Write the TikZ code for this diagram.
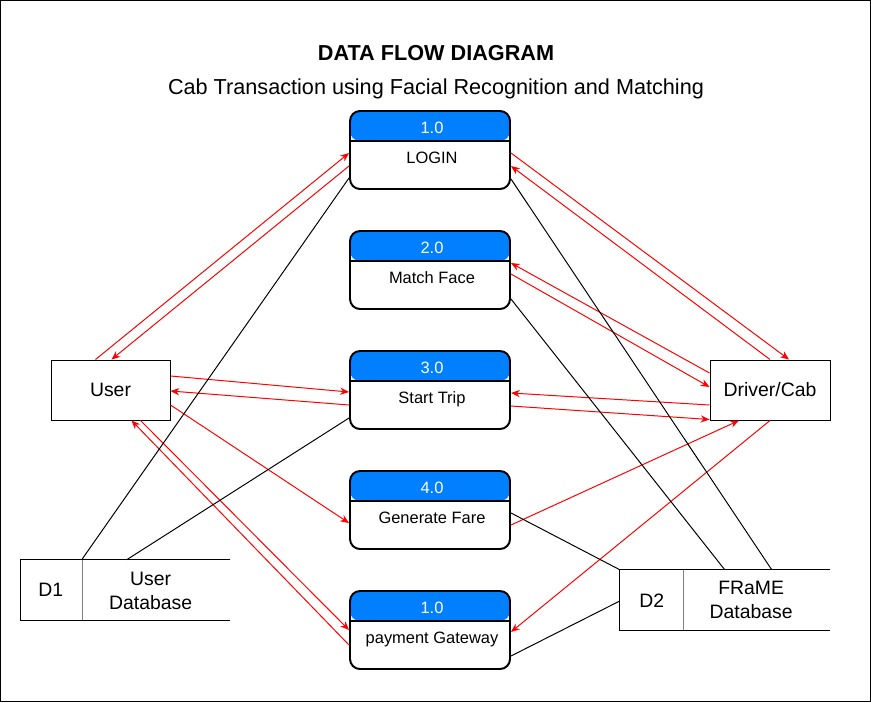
\documentclass[tikz,border=0pt]{standalone}
\usepackage{fontspec}
\setmainfont{Liberation Sans}
\usetikzlibrary{arrows.meta}
\usetikzlibrary{calc}
\definecolor{hblue}{RGB}{0,127,255}

\tikzset{
  proc/.style={draw, line width=1.4pt, rounded corners=2.5mm, minimum width=40mm,
    minimum height=19.5mm, inner sep=0pt,
    path picture={
      \fill [hblue] (path picture bounding box.north west) rectangle ([yshift=-7.5mm]path picture bounding box.north east);
      \draw [line width=1.4pt] ([yshift=-7.5mm]path picture bounding box.north west) -- ([yshift=-7.5mm]path picture bounding box.north east);
    }},
  ent/.style={draw, line width=0.7pt, minimum height=15mm, inner sep=0pt, font=\fontsize{13.8}{16.6}\selectfont},
  store/.style={minimum height=15mm, inner sep=0pt},
  stxt/.style={font=\fontsize{13.8}{16.6}\selectfont, align=center, inner sep=0pt},
  ptxt/.style={font=\fontsize{11.7}{14}\selectfont, anchor=base, inner sep=0pt},
  htxt/.style={ptxt, white},
  flow/.style={red, line width=0.7pt, -{Stealth[length=2.2mm, width=1.8mm]}},
  link/.style={black, line width=0.7pt}
}

\begin{document}
\begin{tikzpicture}[x=0.25mm, y=-0.25mm]
    \useasboundingbox (0, 0) rectangle (871, 702);
    \draw [line width=0.7pt] (0.5, 0.5) rectangle (870.5, 701.5);

    \node [font=\bfseries\fontsize{15.4}{18}\selectfont, anchor=base] (title) at (436, 60) {DATA FLOW DIAGRAM};
    \node [font=\fontsize{15.4}{18}\selectfont, anchor=base] (subtitle) at (436, 94) {Cab Transaction using Facial Recognition and Matching};

    \foreach \n/\y/\k/\t in {login/150/1.0/LOGIN, match/270/2.0/Match Face, trip/390/3.0/Start Trip,
                             fare/510/4.0/Generate Fare, pay/630/1.0/payment Gateway} {
      \node [proc] (\n) at (430, \y) {};
      \node [htxt] (\n-num) at ($(\n.center)+(2, -17)$) {\k};
      \node [ptxt] (\n-lbl) at ($(\n.center)+(2, 13)$) {\t};
    }

    \node [ent, minimum width=29.75mm] (user) at (110.5, 390) {User};
    \node [ent, minimum width=30mm] (driver) at (770, 390) {Driver/Cab};

    \node [store, minimum width=52.25mm] (d1) at (125.5, 590) {};
    \draw [link] (d1.north east) -- (d1.north west) -- (d1.south west) -- (d1.south east);
    \draw [gray, line width=0.7pt] ($(d1.north west)+(62, 0)$) -- ($(d1.south west)+(62, 0)$);
    \node [stxt] (d1-id) at ($(d1.west)+(30, 0)$) {D1};
    \node [stxt] (d1-name) at ($(d1.west)+(130, 1)$) {User\\Database};

    \node [store, minimum width=52.5mm] (d2) at (725, 600) {};
    \draw [link] (d2.north east) -- (d2.north west) -- (d2.south west) -- (d2.south east);
    \draw [gray, line width=0.7pt] ($(d2.north west)+(64, 0)$) -- ($(d2.south west)+(64, 0)$);
    \node [stxt] (d2-id) at ($(d2.west)+(32, 1)$) {D2};
    \node [stxt] (d2-name) at ($(d2.west)+(131.5, 0)$) {FRaME\\Database};

    \draw [flow] ($(user.north)+(-15, 0)$) -- ($(login.west)+(0, 3)$);
    \draw [flow] ($(login.west)+(0, 16)$) -- ($(user.north)+(1, 0)$);
    \draw [flow] ($(login.east)+(0, 3)$) -- ($(driver.north)+(19, 0)$);
    \draw [flow] (driver.north) -- ($(login.east)+(0, 16)$);
    \draw [flow] ($(driver.west)+(0, -17)$) -- ($(match.east)+(0, -7)$);
    \draw [flow] ($(match.east)+(0, 4)$) -- ($(driver.west)+(0, -3)$);
    \draw [flow] ($(user.east)+(0, -14)$) -- ($(trip.west)+(0, 2)$);
    \draw [flow] ($(trip.west)+(0, 15)$) -- ($(user.east)+(0, 1)$);
    \draw [flow] ($(driver.west)+(0, 15)$) -- ($(trip.east)+(0, 3)$);
    \draw [flow] ($(trip.east)+(0, 16)$) -- ($(driver.south west)+(0, -1)$);
    \draw [flow] ($(user.east)+(0, 15)$) -- ($(fare.west)+(0, 13)$);
    \draw [flow] ($(fare.east)+(0, 15)$) -- ($(driver.south)+(-31, 0)$);
    \draw [flow] (driver.south) -- ($(pay.east)+(0, 2)$);
    \draw [flow] ($(user.south)+(30, 0)$) -- (pay.west);
    \draw [flow] ($(pay.west)+(0, 15)$) -- ($(user.south)+(21, 0)$);

    \draw [link] ($(d1.north west)+(61, 0)$) -- ($(login.west)+(0, 28)$);
    \draw [link] ($(d1.north west)+(106, 0)$) -- ($(trip.west)+(0, 28)$);
    \draw [link] ($(login.east)+(0, 29)$) -- ($(d2.north west)+(152, 0)$);
    \draw [link] ($(match.east)+(0, 29)$) -- ($(d2.north west)+(105, 0)$);
    \draw [link] ($(fare.east)+(0, 3)$) -- (d2.north west);
    \draw [link] ($(pay.east)+(0, 26)$) -- ($(d2.west)+(0, 1)$);
  \end{tikzpicture}
\end{document}
